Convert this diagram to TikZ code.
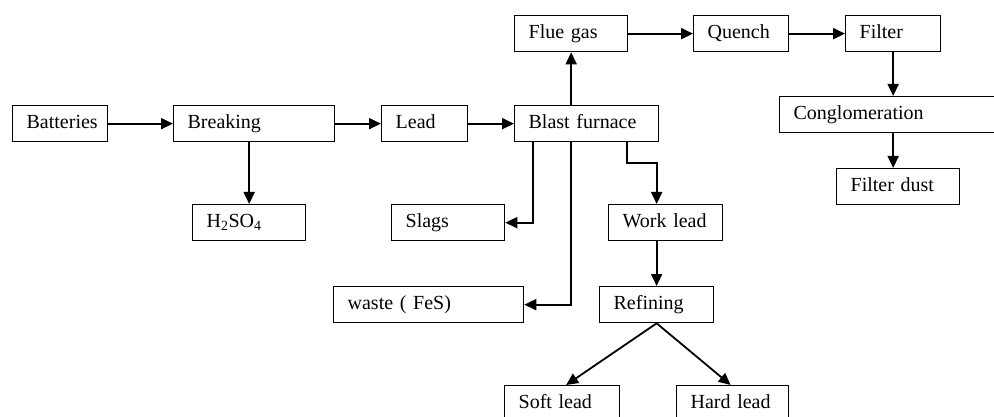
\documentclass[tikz,border=0pt]{standalone}
\usepackage{fontspec}
\setmainfont{Liberation Serif}
\usetikzlibrary{arrows.meta}

\begin{document}
\begin{tikzpicture}[
  x=1pt, y=-1pt,
  box/.style={draw, line width=1.3pt, anchor=north west, minimum height=36pt,
    inner xsep=14pt, inner ysep=0pt, align=left,
    text height=14pt, text depth=4pt,
    font=\fontsize{20}{24}\selectfont},
  arr/.style={line width=1.8pt, -{Triangle[length=12pt,width=11pt]}},
]
\clip (0,0) rectangle (994,417);

% main line
\node [box, text width=67pt] (bat) at (12,105) {Batteries};
\node [box, text width=133pt] (brk) at (173,105) {Breaking};
\node [box, text width=85pt] (h2so4) at (192,204) {H\textsubscript{2}SO\textsubscript{4}};
\node [box, text width=58pt] (lead) at (381,105) {Lead};
\node [box, text width=116pt] (bf) at (514,105) {Blast furnace};

% gas line
\node [box, text width=85pt] (flue) at (514,15) {Flue gas};
\node [box, text width=67pt] (quench) at (693,15) {Quench};
\node [box, text width=67pt] (filter) at (845,15) {Filter};
\node [box, text width=192pt] (cong) at (779,96) {Conglomeration};
\node [box, text width=95pt] (dust) at (836,168) {Filter dust};

% furnace products
\node [box, text width=85pt] (slags) at (391,204) {Slags};
\node [box, text width=162pt] (waste) at (333,286) {waste ( FeS)};
\node [box, text width=86pt] (work) at (608,204) {Work lead};
\node [box, text width=86pt] (refin) at (599,286) {Refining};
\node [box, text width=87pt] (soft) at (504,385) {Soft lead};
\node [box, text width=84pt] (hard) at (676,385) {Hard lead};

\draw [arr] (bat) -- (brk);
\draw [arr] (brk) -- (lead);
\draw [arr] (lead) -- (bf);
\draw [arr] (h2so4.north |- brk.south) -- (h2so4.north);
\draw [arr] (flue.south |- bf.north) -- (flue.south);
\draw [arr] (flue) -- (quench);
\draw [arr] (quench) -- (filter);
\draw [arr] (filter.south) -- (filter.south |- cong.north);
\draw [arr] (cong.south -| filter.south) -- (dust.north -| filter.south);

\draw [arr] ([xshift=19pt]bf.south west) |- (slags.east);
\draw [arr] ([xshift=57pt]bf.south west) |- (waste.east);
\draw [arr] ([xshift=113pt]bf.south west) -- ++(0,21) -| (refin.north |- work.north);
\draw [arr] (refin.north |- work.south) -- (refin.north);
\draw [arr] (refin.south) -- ([xshift=4pt]soft.north);
\draw [arr] (refin.south) -- ([xshift=-2pt]hard.north);
\end{tikzpicture}
\end{document}
